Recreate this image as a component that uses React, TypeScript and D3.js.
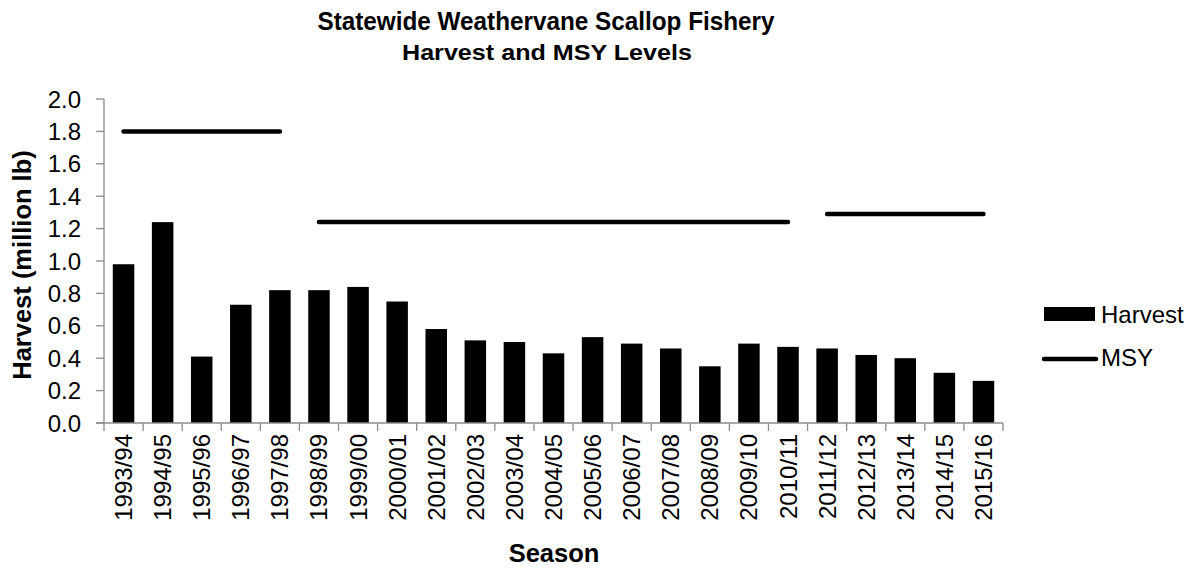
import React, { useEffect, useRef } from "react";
import * as d3 from "d3";

const seasons = [
  "1993/94", "1994/95", "1995/96", "1996/97", "1997/98", "1998/99", "1999/00",
  "2000/01", "2001/02", "2002/03", "2003/04", "2004/05", "2005/06", "2006/07",
  "2007/08", "2008/09", "2009/10", "2010/11", "2011/12", "2012/13", "2013/14",
  "2014/15", "2015/16",
];
const harvest = [
  0.98, 1.24, 0.41, 0.73, 0.82, 0.82, 0.84, 0.75, 0.58, 0.51, 0.5, 0.43,
  0.53, 0.49, 0.46, 0.35, 0.49, 0.47, 0.46, 0.42, 0.4, 0.31, 0.26,
];
const msy = [
  1.8, 1.8, 1.8, 1.8, 1.8,
  1.24, 1.24, 1.24, 1.24, 1.24, 1.24, 1.24, 1.24, 1.24, 1.24, 1.24, 1.24, 1.24,
  1.29, 1.29, 1.29, 1.29, 1.29,
];
const yTicks = [0, 0.2, 0.4, 0.6, 0.8, 1.0, 1.2, 1.4, 1.6, 1.8, 2.0];
const titleText = "Statewide Weathervane Scallop Fishery";
const subtitleText = "Harvest and MSY Levels";
const yTitle = "Harvest (million lb)";
const xTitle = "Season";
const legendItems = ["Harvest", "MSY"];

const W = 1203;
const H = 569;
const FONT = "Arial, 'Liberation Sans', sans-serif";

export default function App() {
  const ref = useRef<SVGSVGElement | null>(null);

  useEffect(() => {
    const svg = d3.select(ref.current);
    svg.selectAll("*").remove();

    const left = 104, right = 1003, top = 99, bottom = 423;
    const x = d3.scaleBand<string>().domain(seasons).range([left, right]).paddingInner(0.45).paddingOuter(0.225);
    const xb = d3.scaleBand<string>().domain(seasons).range([left, right]);
    const y = d3.scaleLinear().domain([0, 2]).range([bottom, top]);

    // title
    svg.append("text").attr("x", 546).attr("y", 30).attr("text-anchor", "middle")
      .attr("font-family", FONT).attr("font-weight", "bold").attr("font-size", 25)
      .attr("textLength", 457).attr("lengthAdjust", "spacingAndGlyphs").text(titleText);
    svg.append("text").attr("x", 547).attr("y", 60).attr("text-anchor", "middle")
      .attr("font-family", FONT).attr("font-weight", "bold").attr("font-size", 22)
      .attr("textLength", 290).attr("lengthAdjust", "spacingAndGlyphs").text(subtitleText);

    // bars
    svg.append("g").selectAll("rect").data(harvest).join("rect")
      .attr("x", (_d, i) => x(seasons[i])!)
      .attr("width", x.bandwidth())
      .attr("y", (d) => y(d))
      .attr("height", (d) => y(0) - y(d))
      .attr("fill", "#000");

    // axes
    const axisColor = "#8c8c8c";
    const ax = svg.append("g");
    ax.append("line").attr("x1", left).attr("x2", left).attr("y1", top).attr("y2", bottom)
      .attr("stroke", axisColor).attr("stroke-width", 1.3);
    ax.append("line").attr("x1", left - 8).attr("x2", right).attr("y1", bottom).attr("y2", bottom)
      .attr("stroke", axisColor).attr("stroke-width", 1.3);
    ax.selectAll("line.yt").data(yTicks).join("line").attr("class", "yt")
      .attr("x1", left - 8).attr("x2", left).attr("y1", (d) => y(d)).attr("y2", (d) => y(d))
      .attr("stroke", axisColor).attr("stroke-width", 1.3);
    const bounds = seasons.map((s) => xb(s)!).concat([right]);
    ax.selectAll("line.xt").data(bounds).join("line").attr("class", "xt")
      .attr("x1", (d) => d).attr("x2", (d) => d).attr("y1", bottom).attr("y2", bottom + 8)
      .attr("stroke", axisColor).attr("stroke-width", 1.3);

    // y tick labels
    svg.append("g").selectAll("text").data(yTicks).join("text")
      .attr("x", 81).attr("y", (d) => y(d) + 8.5).attr("text-anchor", "end")
      .attr("font-family", FONT).attr("font-size", 24).attr("fill", "#000")
      .text((d) => d3.format(".1f")(d));

    // x tick labels
    svg.append("g").selectAll("text").data(seasons).join("text")
      .attr("transform", (d) => `translate(${x(d)! + x.bandwidth() / 2 + 8.5},${bottom + 11}) rotate(-90)`)
      .attr("text-anchor", "end")
      .attr("font-family", FONT).attr("font-size", 24).attr("fill", "#000")
      .text((d) => d);

    // MSY segments
    const segs: { i: number; v: number }[][] = [];
    msy.forEach((v, i) => {
      const last = segs[segs.length - 1];
      if (last && last[last.length - 1].v === v) last.push({ i, v });
      else segs.push([{ i, v }]);
    });
    const line = d3.line<{ i: number; v: number }>()
      .x((d) => x(seasons[d.i])! + x.bandwidth() / 2)
      .y((d) => y(d.v));
    svg.append("g").selectAll("path").data(segs).join("path")
      .attr("d", (d) => line(d))
      .attr("fill", "none").attr("stroke", "#000").attr("stroke-width", 4.5)
      .attr("stroke-linecap", "round");

    // axis titles
    svg.append("text").attr("transform", `translate(31,${(top + bottom) / 2 + 4}) rotate(-90)`)
      .attr("text-anchor", "middle").attr("font-family", FONT).attr("font-weight", "bold")
      .attr("font-size", 25.5).text(yTitle);
    svg.append("text").attr("x", 554).attr("y", 562).attr("text-anchor", "middle")
      .attr("font-family", FONT).attr("font-weight", "bold").attr("font-size", 25.5).text(xTitle);

    // legend
    const lg = svg.append("g");
    lg.append("rect").attr("x", 1044).attr("y", 307).attr("width", 51).attr("height", 14).attr("fill", "#000");
    lg.append("line").attr("x1", 1044).attr("x2", 1096).attr("y1", 359).attr("y2", 359)
      .attr("stroke", "#000").attr("stroke-width", 4.5).attr("stroke-linecap", "round");
    lg.selectAll("text").data(legendItems).join("text")
      .attr("x", 1101).attr("y", (_d, i) => 323 + i * 43)
      .attr("font-family", FONT).attr("font-size", 24).attr("fill", "#000")
      .text((d) => d);
  }, []);

  return (
    <div style={{ position: "absolute", left: 0, top: 0 }}>
      <svg ref={ref} width={W} height={H} style={{ display: "block", background: "#fff" }} />
    </div>
  );
}
